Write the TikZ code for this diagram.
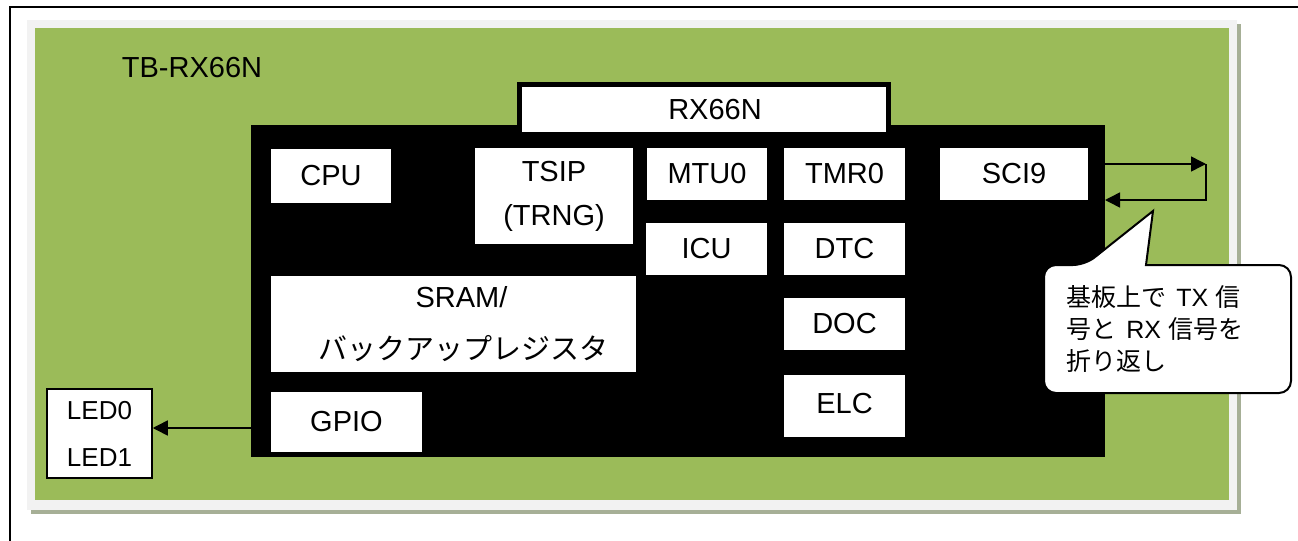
\documentclass[tikz,border=0pt]{standalone}
\usepackage{fontspec}
\setmainfont{Liberation Sans}
\newfontfamily\jpfont{Noto Sans CJK JP}
\usetikzlibrary{arrows.meta}
\definecolor{boardgreen}{HTML}{9BBB59}
\definecolor{framegray}{HTML}{F2F2F2}
\definecolor{shadowgray}{HTML}{A6AF96}

\begin{document}
\begin{tikzpicture}[
  x=0.5pt, y=-0.5pt,
  blk/.style={
    fill=white,
    inner sep=0pt,
    align=center,
    font=\fontsize{14.5}{22}\selectfont
  },
  chipname/.style={
    blk,
    draw=black,
    line width=2.5pt
  },
  ledbox/.style={
    fill=white,
    draw=black,
    line width=0.75pt,
    inner sep=0pt,
    align=center,
    font=\fontsize{13}{23.5}\selectfont
  },
  bubble/.style={
    fill=white,
    draw=black,
    line width=1pt
  },
  arr/.style={
    -{Triangle[length=7.5pt,width=7.5pt]},
    line width=0.75pt
  }
]
\useasboundingbox (0,0) rectangle (1298,541);

% Board
\draw[line width=1pt] (10,541) -- (10,7) -- (1298,7);
\fill[shadowgray] (31,24) rectangle (1241,514);
\fill[framegray] (27,20) rectangle (1237,510);
\fill[boardgreen] (35,28) rectangle (1229,500);
\node[font=\fontsize{14.5}{17}\selectfont] (board) at (192,68) {TB-RX66N};

% MCU
\node[fill=black, inner sep=0pt, minimum width=427pt, minimum height=166pt]
  (chip) at (678,291) {};
\node[chipname, minimum width=184.5pt, minimum height=25pt] (rx) at (704,109.5)
  {\hspace*{11pt}RX66N};

% Peripherals
\node[blk, minimum width=60pt, minimum height=27pt] (cpu) at (331,176) {CPU};
\node[blk, minimum width=79pt, minimum height=48pt] (tsip) at (554,196)
  {TSIP\\(TRNG)};
\node[blk, minimum width=60pt, minimum height=26pt] (mtu) at (707,174) {MTU0};
\node[blk, minimum width=60.5pt, minimum height=26pt] (tmr) at (844.5,174) {TMR0};
\node[blk, minimum width=74pt, minimum height=26pt] (sci) at (1014,174) {SCI9};
\node[blk, minimum width=60.5pt, minimum height=26pt] (icu) at (706.5,249) {ICU};
\node[blk, minimum width=60.5pt, minimum height=26pt] (dtc) at (844.5,249) {DTC};
\node[blk, minimum width=182.5pt, minimum height=48pt,
  font=\fontsize{14.5}{26}\selectfont] (sram) at (453.5,324)
  {\hspace*{8pt}SRAM/\\\hspace*{10pt}{\jpfont バックアップレジスタ}};
\node[blk, minimum width=60.5pt, minimum height=26pt] (doc) at (844.5,324) {DOC};
\node[blk, minimum width=60.5pt, minimum height=31pt] (elc) at (844.5,406)
  {\raisebox{3pt}{ELC}};
\node[blk, minimum width=75.5pt, minimum height=30pt] (gpio) at (346.5,422) {GPIO};

% LEDs
\node[ledbox, minimum width=52.5pt, minimum height=44.5pt] (led) at (99.5,433.5)
  {LED0\\LED1};
\coordinate (gpioout) at (251,428);
\draw[arr] (gpioout) -- (led.east |- gpioout);

% SCI9 loop-back
\coordinate (txd) at (1105,164);
\coordinate (rxd) at (1105,200);
\coordinate (loop) at (1206,164);
\draw[arr] (txd) -- (loop);
\draw[arr] (loop) |- (rxd);

% Callout
\draw[bubble] (1085,265) [sharp corners] -- (1153,211) -- (1146,265)
  [rounded corners=6pt] -- (1291,265) -- (1291,393) -- (1044,393)
  -- (1044,265) -- cycle;
\node[inner sep=0pt, anchor=west, align=left,
  font=\fontsize{12.5}{16}\selectfont] (note) at (1066,329)
  {{\jpfont 基板上で}\hspace{5pt}TX {\jpfont 信}\\{\jpfont 号と}\hspace{5pt}RX {\jpfont 信号を}\\{\jpfont 折り返し}};

\end{tikzpicture}
\end{document}
